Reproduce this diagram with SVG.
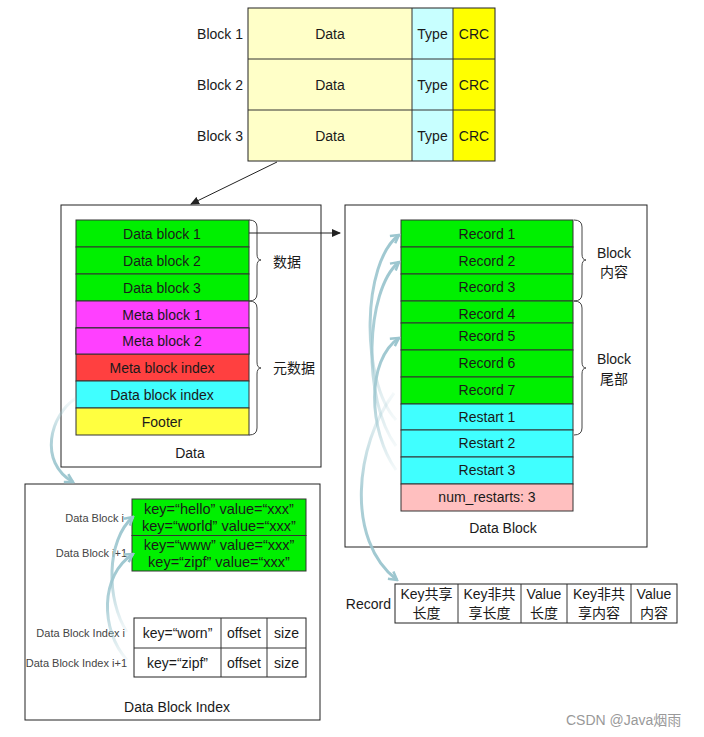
<svg xmlns="http://www.w3.org/2000/svg" width="704" height="737" viewBox="0 0 704 737">
<style>
text{font-family:"Liberation Sans","Noto Sans CJK SC",sans-serif;fill:#1a1a1a;font-size:14px}
.c{text-anchor:middle}
.r{text-anchor:end}
.sm{font-size:11px;fill:#444}
.box{fill:#fff;stroke:#222;stroke-width:1}
.cell{stroke:#333;stroke-width:1}
.brace{fill:none;stroke:#444;stroke-width:1}
.blk{fill:none;stroke:#222;stroke-width:1}
.curveUp{fill:none;stroke:url(#gUp);stroke-width:3}
.curveDn{fill:none;stroke:url(#gDn);stroke-width:3}
.wm{fill:#999;font-size:14px}
</style>
<defs>
<marker id="ah" markerUnits="userSpaceOnUse" markerWidth="9" markerHeight="8" viewBox="0 0 9 8" refX="8" refY="4" orient="auto">
<path d="M0,0 L9,4 L0,8 z" fill="#222"/>
</marker>
<marker id="bh" markerUnits="userSpaceOnUse" markerWidth="12" markerHeight="12" viewBox="0 0 12 12" refX="10" refY="6" orient="auto">
<path d="M2,1.5 L10,6 L2,10.5" fill="none" stroke="#9CC6CF" stroke-width="2.5"/>
</marker>
<linearGradient id="gUp" x1="0" y1="1" x2="0" y2="0">
<stop offset="0" stop-color="#9CC6CF" stop-opacity="0.1"/>
<stop offset="0.5" stop-color="#9CC6CF" stop-opacity="0.8"/>
<stop offset="1" stop-color="#9CC6CF" stop-opacity="1"/>
</linearGradient>
<linearGradient id="gDn" x1="0" y1="0" x2="0" y2="1">
<stop offset="0" stop-color="#9CC6CF" stop-opacity="0.1"/>
<stop offset="0.5" stop-color="#9CC6CF" stop-opacity="0.8"/>
<stop offset="1" stop-color="#9CC6CF" stop-opacity="1"/>
</linearGradient>
</defs>
<rect width="704" height="737" fill="#fff"/>

<g id="blocks-table">
<rect x="248" y="8" width="164" height="153" fill="#FFFFC8"/>
<rect x="412" y="8" width="41" height="153" fill="#C8FFFF"/>
<rect x="453" y="8" width="42" height="153" fill="#FFFF00"/>
<rect x="248" y="8" width="247" height="153" class="blk"/>
<line x1="248" y1="59" x2="495" y2="59" class="cell"/>
<line x1="248" y1="110" x2="495" y2="110" class="cell"/>
<line x1="412" y1="8" x2="412" y2="161" class="cell"/>
<line x1="453" y1="8" x2="453" y2="161" class="cell"/>
<text x="243" y="39" class="r">Block 1</text>
<text x="243" y="90" class="r">Block 2</text>
<text x="243" y="141" class="r">Block 3</text>
<text x="330" y="39" class="c">Data</text>
<text x="330" y="90" class="c">Data</text>
<text x="330" y="141" class="c">Data</text>
<text x="432.5" y="39" class="c">Type</text>
<text x="432.5" y="90" class="c">Type</text>
<text x="432.5" y="141" class="c">Type</text>
<text x="474" y="39" class="c">CRC</text>
<text x="474" y="90" class="c">CRC</text>
<text x="474" y="141" class="c">CRC</text>
</g>

<g id="data">
<rect x="61" y="205" width="260" height="262" class="box"/>
<rect x="76" y="220" width="173" height="27" fill="#00F000" class="cell"/>
<rect x="76" y="247" width="173" height="27" fill="#00F000" class="cell"/>
<rect x="76" y="274" width="173" height="27" fill="#00F000" class="cell"/>
<rect x="76" y="301" width="173" height="27" fill="#FF40FF" class="cell"/>
<rect x="76" y="328" width="173" height="26" fill="#FF4040" class="cell"/>
<rect x="76" y="354" width="173" height="27" fill="#FF4040" class="cell"/>
<rect x="76" y="381" width="173" height="27" fill="#40FFFF" class="cell"/>
<rect x="76" y="408" width="173" height="27" fill="#FFFF40" class="cell"/>
<rect x="76" y="328" width="173" height="26" fill="#FF40FF" class="cell"/>
<text x="162" y="239" class="c">Data block 1</text>
<text x="162" y="266" class="c">Data block 2</text>
<text x="162" y="293" class="c">Data block 3</text>
<text x="162" y="320" class="c">Meta block 1</text>
<text x="162" y="346" class="c">Meta block 2</text>
<text x="162" y="373" class="c">Meta block index</text>
<text x="162" y="400" class="c">Data block index</text>
<text x="162" y="427" class="c">Footer</text>
<path class="brace" d="M249,220 q8,0 8,7 L257,254 q0,6 4,6 q-4,0 -4,6 L257,294 q0,7 -8,7"/>
<path class="brace" d="M249,301 q8,0 8,7 L257,362 q0,6 4,6 q-4,0 -4,6 L257,428 q0,7 -8,7"/>
<text x="273" y="267">数据</text>
<text x="273" y="373">元数据</text>
<text x="190" y="458" class="c">Data</text>
</g>

<g id="data-block">
<rect x="345" y="205" width="302" height="342" class="box"/>
<rect x="401" y="220" width="172" height="27" fill="#00F000" class="cell"/>
<rect x="401" y="247" width="172" height="27" fill="#00F000" class="cell"/>
<rect x="401" y="274" width="172" height="27" fill="#00F000" class="cell"/>
<rect x="401" y="301" width="172" height="22" fill="#00F000" class="cell"/>
<rect x="401" y="323" width="172" height="27" fill="#00F000" class="cell"/>
<rect x="401" y="350" width="172" height="27" fill="#00F000" class="cell"/>
<rect x="401" y="377" width="172" height="27" fill="#00F000" class="cell"/>
<rect x="401" y="404" width="172" height="26" fill="#40FFFF" class="cell"/>
<rect x="401" y="430" width="172" height="27" fill="#40FFFF" class="cell"/>
<rect x="401" y="457" width="172" height="27" fill="#40FFFF" class="cell"/>
<rect x="401" y="484" width="172" height="27" fill="#FFBFBF" class="cell"/>
<text x="487" y="239" class="c">Record 1</text>
<text x="487" y="266" class="c">Record 2</text>
<text x="487" y="292" class="c">Record 3</text>
<text x="487" y="319" class="c">Record 4</text>
<text x="487" y="341" class="c">Record 5</text>
<text x="487" y="368" class="c">Record 6</text>
<text x="487" y="395" class="c">Record 7</text>
<text x="487" y="422" class="c">Restart 1</text>
<text x="487" y="448" class="c">Restart 2</text>
<text x="487" y="475" class="c">Restart 3</text>
<text x="487" y="502" class="c">num_restarts: 3</text>
<path class="brace" d="M574,220 q8,0 8,7 L582,254 q0,6 4,6 q-4,0 -4,6 L582,294 q0,7 -8,7"/>
<path class="brace" d="M574,301 q8,0 8,7 L582,362 q0,6 4,6 q-4,0 -4,6 L582,428 q0,7 -8,7"/>
<text x="614" y="258" class="c">Block</text>
<text x="614" y="277" class="c">内容</text>
<text x="614" y="364" class="c">Block</text>
<text x="614" y="384" class="c">尾部</text>
<text x="503" y="533" class="c">Data Block</text>
</g>

<g id="data-block-index">
<rect x="25" y="484" width="295" height="236" class="box"/>
<rect x="132" y="499" width="174" height="36.5" fill="#00F000" class="cell"/>
<rect x="132" y="535.5" width="174" height="35.5" fill="#00F000" class="cell"/>
<text x="219" y="514" class="c" style="font-size:14.5px">key=“hello” value=“xxx”</text>
<text x="219" y="531" class="c" style="font-size:14.5px">key=“world” value=“xxx”</text>
<text x="219" y="550" class="c" style="font-size:14.5px">key=“www” value=“xxx”</text>
<text x="219" y="567" class="c" style="font-size:14.5px">key=“zipf” value=“xxx”</text>
<text x="124" y="522" class="r sm">Data Block i</text>
<text x="127" y="557" class="r sm">Data Block i+1</text>
<rect x="134" y="618" width="172" height="59" class="blk"/>
<line x1="134" y1="648" x2="306" y2="648" class="cell"/>
<line x1="221" y1="618" x2="221" y2="677" class="cell"/>
<line x1="267" y1="618" x2="267" y2="677" class="cell"/>
<text x="177.5" y="638" class="c">key=“worn”</text>
<text x="177.5" y="668" class="c">key=“zipf”</text>
<text x="244" y="638" class="c">offset</text>
<text x="244" y="668" class="c">offset</text>
<text x="286.5" y="638" class="c">size</text>
<text x="286.5" y="668" class="c">size</text>
<text x="125" y="637" class="r sm">Data Block Index i</text>
<text x="127" y="667" class="r sm">Data Block Index i+1</text>
<text x="177" y="712" class="c">Data Block Index</text>
</g>

<g id="record">
<text x="391" y="609" class="r">Record</text>
<rect x="395" y="584" width="282" height="39" class="blk"/>
<line x1="458" y1="584" x2="458" y2="623" class="cell"/>
<line x1="521" y1="584" x2="521" y2="623" class="cell"/>
<line x1="567" y1="584" x2="567" y2="623" class="cell"/>
<line x1="631" y1="584" x2="631" y2="623" class="cell"/>
<text x="426.5" y="599" class="c">Key共享</text>
<text x="426.5" y="618" class="c">长度</text>
<text x="489.5" y="599" class="c">Key非共</text>
<text x="489.5" y="618" class="c">享长度</text>
<text x="544" y="599" class="c">Value</text>
<text x="544" y="618" class="c">长度</text>
<text x="599" y="599" class="c">Key非共</text>
<text x="599" y="618" class="c">享内容</text>
<text x="654" y="599" class="c">Value</text>
<text x="654" y="618" class="c">内容</text>
</g>

<g id="connectors">
<line x1="277" y1="162" x2="191" y2="204" stroke="#222" stroke-width="1" marker-end="url(#ah)"/>
<line x1="249" y1="233" x2="340" y2="233" stroke="#222" stroke-width="1" marker-end="url(#ah)"/>
<path class="curveUp" d="M396,420 C360,380 362,262 399,235" marker-end="url(#bh)"/>
<path class="curveUp" d="M396,446 C362,400 365,290 399,262" marker-end="url(#bh)"/>
<path class="curveUp" d="M396,470 C368,430 366,360 399,338" marker-end="url(#bh)"/>
<path class="curveDn" d="M394,393 C355,445 345,540 397,580" marker-end="url(#bh)"/>
<path class="curveDn" d="M76,398 C50,415 38,462 73,482" marker-end="url(#bh)"/>
<path class="curveUp" d="M127,632 C106,600 106,540 133,517" marker-end="url(#bh)"/>
<path class="curveUp" d="M127,660 C100,630 100,575 133,554" marker-end="url(#bh)"/>
</g>

<text x="566" y="725" class="wm">CSDN @Java烟雨</text>
</svg>
